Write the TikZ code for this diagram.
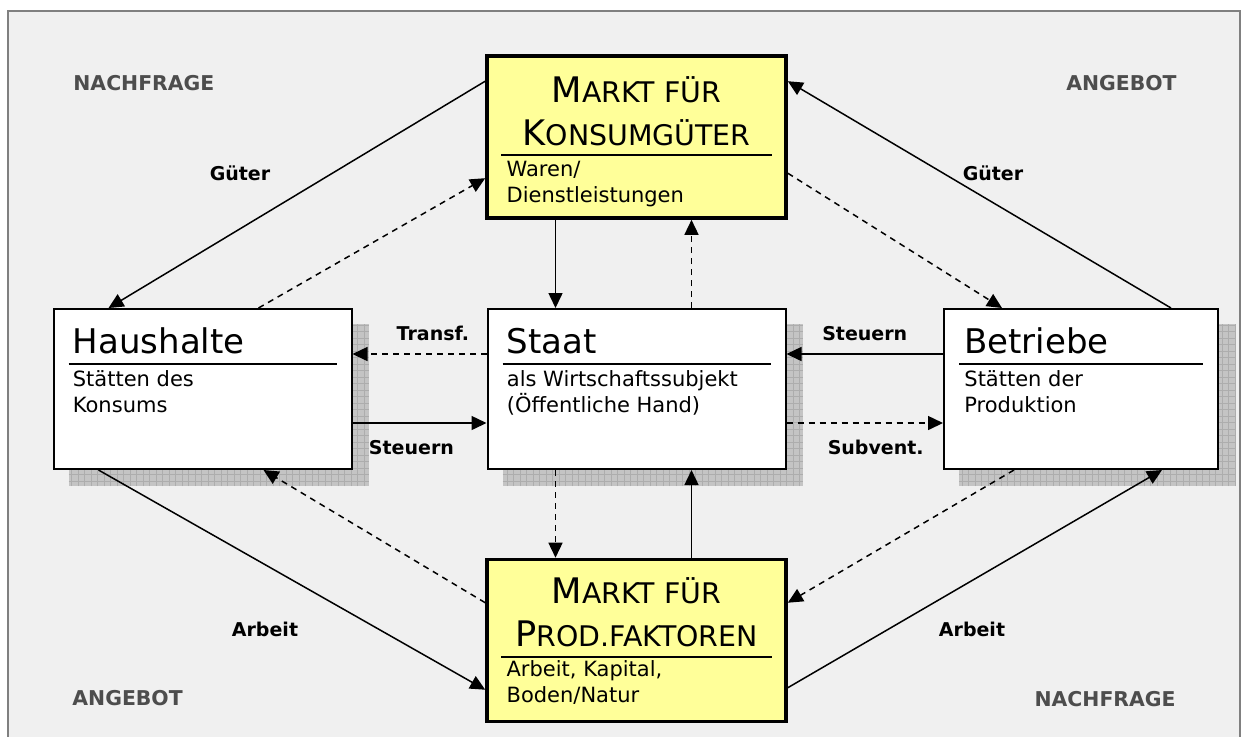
\documentclass[tikz,border=0pt]{standalone}
\usepackage{fontspec}
\setmainfont{DejaVu Sans}
\usetikzlibrary{arrows.meta,positioning,calc,backgrounds}
\definecolor{framegray}{HTML}{808080}
\definecolor{panelgray}{HTML}{F0F0F0}
\definecolor{shadowfill}{HTML}{C4C4C4}
\definecolor{shadowgrid}{HTML}{ADADAD}
\definecolor{marketyellow}{HTML}{FFFF99}
\definecolor{cornergray}{HTML}{4D4D4D}

\newcommand{\capbig}[1]{{\fontsize{17.6}{21.5}\selectfont #1}}

\tikzset{
  actor/.style={rectangle, draw, fill=white, line width=1pt, inner sep=0pt, minimum width=149pt, minimum height=80pt},
  market/.style={rectangle, draw, fill=marketyellow, line width=1.8pt, inner sep=0pt, minimum width=149.5pt, minimum height=81pt},
  headline/.style={anchor=base west, inner sep=0pt, font=\fontsize{17}{20}\selectfont},
  subline/.style={anchor=base west, inner sep=0pt, align=left, font=\fontsize{10.5}{13}\selectfont},
  markethead/.style={anchor=base, inner sep=0pt, align=center, font=\fontsize{14.2}{21.5}\selectfont},
  headrule/.style={line width=1.2pt},
  flow/.style={line width=0.75pt, -{Triangle[length=7.5pt,width=7pt]}},
  dashflow/.style={flow, dash pattern=on 3pt off 2.5pt},
  flowlabel/.style={font=\bfseries\fontsize{9.5}{11}\selectfont},
  corner/.style={font=\bfseries\fontsize{10.2}{12}\selectfont, text=cornergray, inner sep=0pt},
}

\begin{document}
\begin{tikzpicture}[x=0.5pt, y=-0.5pt]
\useasboundingbox (0,0) rectangle (1241,736);
\begin{scope}[on background layer]
  \draw[framegray, fill=panelgray, line width=0.8pt] (8,11) rectangle (1240,770);
\end{scope}

% Maerkte
\node[market] (kon) at (636.5,137) {};
\node[market] (fak) at (636.5,640.5) {};

% Wirtschaftssubjekte
\node[actor] (hh) at (202.5,389) {};
\node[actor] (st) at (636.5,389) {};
\node[actor, minimum width=137pt] (bt) at (1081,389) {};

% Schatten
\begin{scope}[on background layer]
  \foreach \b in {hh,st,bt}{
    \fill[shadowfill] ($(\b.north west)+(16,16)$) rectangle ($(\b.south east)+(16,16)$);
    \draw[shadowgrid, line width=0.4pt, step=3.25pt] ($(\b.north west)+(16,16)$) grid ($(\b.south east)+(16,16)$);
  }
\end{scope}

% Beschriftung der Kaesten (Anker auf der letzten Zeile)
\node[markethead] (konT) at ($(kon.north)+(0,91)$) {\capbig{M}ARKT FÜR\\\capbig{K}ONSUMGÜTER};
\node[subline] (konS) at ($(kon.north west)+(21,148)$) {Waren/\\Dienstleistungen};
\node[markethead] (fakT) at ($(fak.north)+(0,89)$) {\capbig{M}ARKT FÜR\\\capbig{P}ROD.FAKTOREN};
\node[subline] (fakS) at ($(fak.north west)+(21,145)$) {Arbeit, Kapital,\\Boden/Natur};

\node[headline] (hhT) at ($(hh.north west)+(20,45)$) {Haushalte};
\node[subline] (hhS) at ($(hh.north west)+(20,104)$) {Stätten des\\Konsums};
\node[headline] (stT) at ($(st.north west)+(20,45)$) {Staat};
\node[subline] (stS) at ($(st.north west)+(20,104)$) {als Wirtschaftssubjekt\\(Öffentliche Hand)};
\node[headline] (btT) at ($(bt.north west)+(21,45)$) {Betriebe};
\node[subline] (btS) at ($(bt.north west)+(21,104)$) {Stätten der\\Produktion};

\foreach \b/\d in {hh/56, st/56, bt/56, kon/101, fak/99}
  \draw[headrule] ($(\b.north west)+(16,\d)$) -- ($(\b.north east)+(-16,\d)$);

% Ecken
\node[corner, anchor=base west] (nfL) at (73,90) {NACHFRAGE};
\node[corner, anchor=base east] (agR) at (1177,90) {ANGEBOT};
\node[corner, anchor=base west] (agL) at (72,705) {ANGEBOT};
\node[corner, anchor=base east] (nfR) at (1176,706) {NACHFRAGE};

% Konsumgütermarkt
\draw[flow] ($(kon.north west)+(0,27)$) -- ($(hh.north west)+(56,0)$);
\draw[dashflow] ($(hh.north west)+(206,0)$) -- ($(kon.north west)+(0,124)$);
\draw[flow] ($(kon.south)+(-81,0)$) -- ($(st.north)+(-81,0)$);
\draw[dashflow] ($(st.north)+(55,0)$) -- ($(kon.south)+(55,0)$);
\draw[dashflow] ($(kon.north east)+(0,119)$) -- ($(bt.north west)+(59,0)$);
\draw[flow] ($(bt.north west)+(228,0)$) -- ($(kon.north east)+(0,27)$);
\node[flowlabel] (gueterL) at (240,173) {Güter};
\node[flowlabel] (gueterR) at (993,173) {Güter};

% Staat
\draw[dashflow] ($(st.west)+(0,-35)$) -- node[flowlabel, above=3pt, pos=0.4] (transf) {Transf.} ($(hh.east)+(0,-35)$);
\draw[flow] ($(hh.east)+(0,34)$) -- node[flowlabel, below=5pt, pos=0.44] (steuernL) {Steuern} ($(st.west)+(0,34)$);
\draw[flow] ($(bt.west)+(0,-35)$) -- node[flowlabel, above=3pt, pos=0.5] (steuernR) {Steuern} ($(st.east)+(0,-35)$);
\draw[dashflow] ($(st.east)+(0,34)$) -- node[flowlabel, below=5pt, pos=0.57] (subvent) {Subvent.} ($(bt.west)+(0,34)$);

% Faktormarkt
\draw[dashflow] ($(st.south)+(-81,0)$) -- ($(fak.north)+(-81,0)$);
\draw[flow] ($(fak.north)+(55,0)$) -- ($(st.south)+(55,0)$);
\draw[dashflow] ($(fak.north west)+(0,45)$) -- ($(hh.south west)+(211,0)$);
\draw[flow] ($(hh.south west)+(46,0)$) -- ($(fak.north west)+(0,132)$);
\draw[dashflow] ($(bt.south west)+(71,0)$) -- ($(fak.north east)+(0,45)$);
\draw[flow] ($(fak.north east)+(0,130)$) -- ($(bt.south west)+(219,0)$);
\node[flowlabel] (arbeitL) at (265,629) {Arbeit};
\node[flowlabel] (arbeitR) at (972,629) {Arbeit};
\end{tikzpicture}
\end{document}
